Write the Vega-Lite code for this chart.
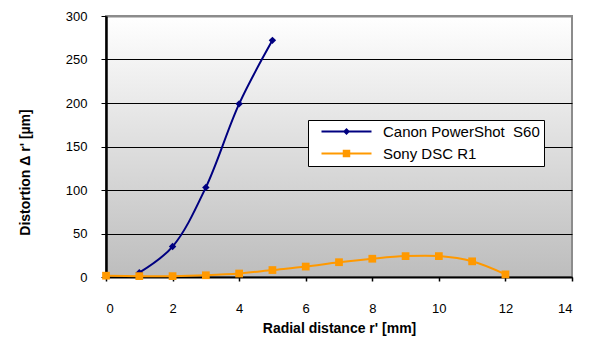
{
  "$schema": "https://vega.github.io/schema/vega-lite/v6.json",
  "width": 466,
  "height": 261,
  "autosize": {"type": "none"},
  "padding": {"left": 106, "top": 16, "right": 17, "bottom": 70},
  "background": "white",
  "config": {
    "font": "Liberation Sans",
    "view": {"stroke": "#8c8c8c", "strokeWidth": 2,
      "fill": {"gradient": "linear", "x1": 0, "y1": 0, "x2": 0, "y2": 1,
          "stops": [{"offset": 0, "color": "#ffffff"}, {"offset": 1, "color": "#bdbdbd"}]}},
    "axis": {"labelFont": "Liberation Sans", "titleFont": "Liberation Sans", "labelColor": "black", "titleColor": "black"}
  },
  "data": {"values": [
      {"series": "Canon PowerShot  S60", "r": 1, "d": 5},
      {"series": "Canon PowerShot  S60", "r": 2, "d": 35},
      {"series": "Canon PowerShot  S60", "r": 3, "d": 103},
      {"series": "Canon PowerShot  S60", "r": 4, "d": 199},
      {"series": "Canon PowerShot  S60", "r": 5, "d": 272},
      {"series": "Sony DSC R1", "r": 0, "d": 1.5},
      {"series": "Sony DSC R1", "r": 1, "d": 1},
      {"series": "Sony DSC R1", "r": 2, "d": 1},
      {"series": "Sony DSC R1", "r": 3, "d": 2},
      {"series": "Sony DSC R1", "r": 4, "d": 4},
      {"series": "Sony DSC R1", "r": 5, "d": 8},
      {"series": "Sony DSC R1", "r": 6, "d": 12},
      {"series": "Sony DSC R1", "r": 7, "d": 17},
      {"series": "Sony DSC R1", "r": 8, "d": 21},
      {"series": "Sony DSC R1", "r": 9, "d": 24},
      {"series": "Sony DSC R1", "r": 10, "d": 24},
      {"series": "Sony DSC R1", "r": 11, "d": 18},
      {"series": "Sony DSC R1", "r": 12, "d": 3}
  ]},
  "encoding": {
    "x": {"field": "r", "type": "quantitative", "scale": {"domain": [0, 14]},
      "axis": {"values": [0, 2, 4, 6, 8, 10, 12, 14], "grid": false, "title": "Radial distance r' [mm]",
        "domainColor": "black", "domainWidth": 2, "tickColor": "black", "tickWidth": 1.5, "tickSize": 4,
        "labelFontSize": 13, "labelPadding": 21, "titleFontSize": 14, "titleFontWeight": "bold", "titlePadding": 6}},
    "y": {"field": "d", "type": "quantitative", "scale": {"domain": [0, 300]},
      "axis": {"values": [0, 50, 100, 150, 200, 250, 300], "grid": true,
        "gridColor": {"condition": {"test": "datum.value == 300", "value": "#8c8c8c"}, "value": "black"},
        "gridWidth": {"condition": {"test": "datum.value == 300", "value": 2}, "value": 1},
        "title": "Distortion  Δ r'  [µm]", "titleY": 156, "domainColor": "black", "domainWidth": 2.5, "tickColor": "black", "tickSize": 5,
        "labelFontSize": 13, "labelPadding": 14, "titleFontSize": 14, "titleFontWeight": "bold", "titlePadding": 33}}
  },
  "layer": [
    {
      "mark": {"type": "line", "interpolate": "catmull-rom", "strokeWidth": 2},
      "encoding": {
        "color": {"field": "series", "type": "nominal", "scale": {"range": ["#000080", "#ff9900"]}, "legend": null}
      }
    },
    {
      "transform": [{"filter": "datum.series != 'Sony DSC R1'"}],
      "mark": {"type": "point", "shape": "diamond", "filled": true, "opacity": 1, "size": 55},
      "encoding": {
        "color": {"field": "series", "type": "nominal", "legend": null}
      }
    },
    {
      "transform": [{"filter": "datum.series == 'Sony DSC R1'"}],
      "mark": {"type": "square", "filled": true, "opacity": 1, "size": 60},
      "encoding": {
        "color": {"field": "series", "type": "nominal", "legend": null}
      }
    },
    {
      "mark": {"type": "point", "filled": true, "opacity": 1, "size": 0},
      "encoding": {
        "fill": {"field": "series", "type": "nominal", "title": null,
          "scale": {"range": ["#000080", "#ff9900"]},
          "legend": {"orient": "none", "legendX": 202, "legendY": 104, "padding": 4,
            "strokeColor": "black", "fillColor": "white", "labelFontSize": 15, "labelColor": "black",
            "labelFont": "Liberation Sans", "symbolOffset": 27, "labelOffset": 29, "rowPadding": 6, "symbolSize": 100,
            "symbolOpacity": 1,
            "labelExpr": "replace(datum.label, '  ', '\u00a0 ') + '\u00a0\u00a0\u00a0'"}},
        "shape": {"field": "series", "type": "nominal", "title": null,
          "legend": {"orient": "none", "legendX": 202, "legendY": 104, "padding": 4,
            "strokeColor": "black", "fillColor": "white", "labelFontSize": 15, "labelColor": "black",
            "labelFont": "Liberation Sans", "symbolOffset": 27, "labelOffset": 29, "rowPadding": 6, "symbolSize": 100,
            "symbolOpacity": 1,
            "labelExpr": "replace(datum.label, '  ', '\u00a0 ') + '\u00a0\u00a0\u00a0'"},
          "scale": {"range": ["M-5,-0.2H5V0.2H-5ZM0,-0.7L0.7,0L0,0.7L-0.7,0Z", "M-5,-0.2H5V0.2H-5ZM-0.75,-0.75H0.75V0.75H-0.75Z"]}}
      }
    }
  ]
}
